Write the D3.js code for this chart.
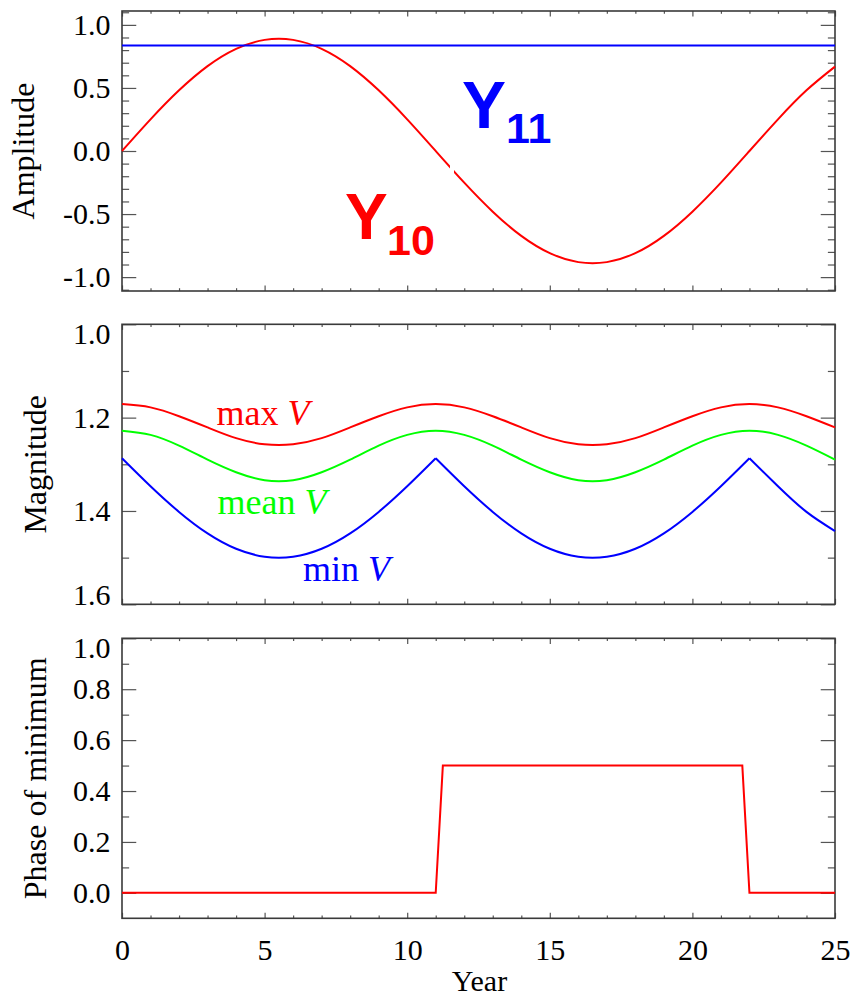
<!DOCTYPE html>
<html>
<head>
<meta charset="utf-8">
<script src="https://cdn.jsdelivr.net/npm/d3@7"></script>
<style>
  html, body { margin: 0; padding: 0; background: #fff; }
  svg { display: block; }
  .serif { font-family: "Liberation Serif", "Times New Roman", Times, serif !important; }
  .sansb { font-family: "Liberation Sans", Arial, Helvetica, sans-serif !important; font-weight: bold; }
</style>
</head>
<body>
<script>
// ---------------- DATA ----------------
const years = [0,1,2,3,4,5,6,7,8,9,10,11,12,13,14,15,16,17,18,19,20,21,22,23,24,25];

// Panel 1: Amplitude
const y10Values = [0.000,0.251,0.481,0.673,0.810,0.881,0.881,0.810,0.673,0.481,0.251,0.000,
                   -0.251,-0.481,-0.673,-0.810,-0.881,-0.881,-0.810,-0.673,-0.481,-0.251,0.000,
                   0.251,0.481,0.669];
const y10Gap = [11.50, 11.64];          // small break in the Y10 curve
const y11Years = [0, 25];
const y11Values = [0.836, 0.836];

// Panel 2: Magnitude
const maxV  = [1.171,1.178,1.197,1.221,1.244,1.257,1.257,1.244,1.221,1.197,1.178,1.171,
               1.178,1.197,1.221,1.244,1.257,1.257,1.244,1.221,1.197,1.178,1.171,
               1.178,1.197,1.221];
const meanV = [1.228,1.237,1.260,1.290,1.317,1.334,1.334,1.317,1.290,1.260,1.237,1.228,
               1.237,1.260,1.290,1.317,1.334,1.334,1.317,1.290,1.260,1.237,1.228,
               1.237,1.260,1.290];
const minV  = [1.287,1.347,1.402,1.448,1.481,1.498,1.498,1.481,1.448,1.402,1.347,1.287,
               1.347,1.402,1.448,1.481,1.498,1.498,1.481,1.448,1.402,1.347,1.287,
               1.347,1.402,1.443];
const minVCusps = [11, 22];

// Panel 3: Phase of minimum
const phaseYears  = [0, 11, 11.25, 21.75, 22, 25];
const phaseValues = [0, 0, 0.5, 0.5, 0, 0];

// Tick values
const xMajor = [0,5,10,15,20,25];
const xMinor = [1,2,3,4,6,7,8,9,11,12,13,14,16,17,18,19,21,22,23,24];
const ampMajor = [-1.0,-0.5,0.0,0.5,1.0];
const ampMinor = [-1.1,-0.9,-0.8,-0.7,-0.6,-0.4,-0.3,-0.2,-0.1,0.1,0.2,0.3,0.4,0.6,0.7,0.8,0.9,1.1];
const magMajor = [1.0,1.2,1.4,1.6];
const magMinor = [1.1,1.3,1.5];
const phMajor = [0.0,0.2,0.4,0.6,0.8,1.0];
const phMinor = [0.1,0.3,0.5,0.7,0.9];

// ---------------- LAYOUT ----------------
const W = 852, H = 998;
const left = 122, right = 835;
const svg = d3.select("body").append("svg").attr("width", W).attr("height", H);

const x = d3.scaleLinear().domain([0, 25]).range([left, right]);

const panels = [
  { top: 11,    bottom: 291,   domain: [-1.11, 1.11], major: ampMajor, minor: ampMinor,
    title: "Amplitude", titleX: 34, edge: {} },
  { top: 324.3, bottom: 604.3, domain: [1.0, 1.6], inverted: true, major: magMajor, minor: magMinor,
    title: "Magnitude", titleX: 46, edge: { "1.0": 10, "1.6": -9 } },
  { top: 638.3, bottom: 918.3, domain: [-0.1, 1.0], major: phMajor, minor: phMinor,
    title: "Phase of minimum", titleX: 46, edge: { "1.0": 10 }, xLabels: true }
];

const frameColor = "#3a3a3a";
const tickColor = "#555";
const fmt = d => d.toFixed(1);

panels.forEach(p => {
  p.y = d3.scaleLinear().domain(p.domain)
    .range(p.inverted ? [p.top, p.bottom] : [p.bottom, p.top]);
  const plotW = right - left, plotH = p.bottom - p.top;
  const yMaj = 0.02 * plotW, yMin = yMaj / 2;
  const xMaj = 0.02 * plotH, xMin = xMaj / 2;

  const g = svg.append("g");

  // left axis with labels
  const la = g.append("g").attr("transform", `translate(${left},0)`)
    .call(d3.axisLeft(p.y).tickValues(p.major).tickFormat(fmt).tickSizeInner(-yMaj).tickSizeOuter(0).tickPadding(11.5));
  la.attr("font-family", null).attr("font-size", null);
  la.selectAll("text").attr("class", "serif").style("font-size", "30px").attr("fill", "#000")
    .attr("dy", d => {
      const s = p.edge[fmt(d)] || 0;
      return (0.32 * 30 + s) + "px";
    });
  g.append("g").attr("transform", `translate(${left},0)`)
    .call(d3.axisLeft(p.y).tickValues(p.minor).tickFormat("").tickSizeInner(-yMin).tickSizeOuter(0));
  // right axis mirror
  g.append("g").attr("transform", `translate(${right},0)`)
    .call(d3.axisRight(p.y).tickValues(p.major).tickFormat("").tickSizeInner(-yMaj).tickSizeOuter(0));
  g.append("g").attr("transform", `translate(${right},0)`)
    .call(d3.axisRight(p.y).tickValues(p.minor).tickFormat("").tickSizeInner(-yMin).tickSizeOuter(0));
  // bottom axis
  const ba = g.append("g").attr("transform", `translate(0,${p.bottom})`)
    .call(d3.axisBottom(x).tickValues(xMajor).tickFormat(p.xLabels ? d3.format("d") : "")
      .tickSizeInner(-xMaj).tickSizeOuter(0).tickPadding(20.5));
  ba.attr("font-family", null).attr("font-size", null);
  ba.selectAll("text").attr("class", "serif").style("font-size", "30px").attr("fill", "#000");
  g.append("g").attr("transform", `translate(0,${p.bottom})`)
    .call(d3.axisBottom(x).tickValues(xMinor).tickFormat("").tickSizeInner(-xMin).tickSizeOuter(0));
  // top axis mirror
  g.append("g").attr("transform", `translate(0,${p.top})`)
    .call(d3.axisTop(x).tickValues(xMajor).tickFormat("").tickSizeInner(-xMaj).tickSizeOuter(0));
  g.append("g").attr("transform", `translate(0,${p.top})`)
    .call(d3.axisTop(x).tickValues(xMinor).tickFormat("").tickSizeInner(-xMin).tickSizeOuter(0));

  g.selectAll(".domain").remove();
  g.selectAll(".tick line").attr("stroke", tickColor).attr("stroke-width", 1.2);

  // frame
  g.append("rect").attr("x", left).attr("y", p.top)
    .attr("width", plotW).attr("height", plotH)
    .attr("fill", "none").attr("stroke", frameColor).attr("stroke-width", 1.6);

  // y title
  g.append("text")
    .attr("class", "serif")
    .attr("transform", `translate(${p.titleX},${(p.top + p.bottom) / 2}) rotate(-90)`)
    .attr("text-anchor", "middle")
    .style("font-size", "32px").attr("fill", "#000")
    .text(p.title);
});

// x title
svg.append("text").attr("class", "serif").attr("x", (left + right) / 2 + 1).attr("y", 991)
  .attr("text-anchor", "middle").style("font-size", "30px")
  .attr("fill", "#000").text("Year");

// ---------------- MARKS ----------------
const [p1, p2, p3] = panels;
const lw = 2;

// Panel 1
const defs = svg.append("defs");
defs.append("clipPath").attr("id", "y10a").append("rect")
  .attr("x", 0).attr("y", 0).attr("width", x(y10Gap[0])).attr("height", H);
defs.append("clipPath").attr("id", "y10b").append("rect")
  .attr("x", x(y10Gap[1])).attr("y", 0).attr("width", W - x(y10Gap[1])).attr("height", H);

const y10Line = d3.line().x((d, i) => x(years[i])).y(d => p1.y(d)).curve(d3.curveNatural);
["y10a", "y10b"].forEach(id => {
  svg.append("path").datum(y10Values).attr("d", y10Line)
    .attr("clip-path", `url(#${id})`)
    .attr("fill", "none").attr("stroke", "#ff0000").attr("stroke-width", lw);
});

svg.append("path").datum(y11Values)
  .attr("d", d3.line().x((d, i) => x(y11Years[i])).y(d => p1.y(d)))
  .attr("fill", "none").attr("stroke", "#0000ff").attr("stroke-width", lw);

// Y10 / Y11 labels
const y11T = svg.append("text").attr("class", "sansb").attr("fill", "#0000ff");
y11T.append("tspan").attr("x", 462).attr("y", 128).style("font-size", "66px").text("Y");
y11T.append("tspan").attr("x", 506).attr("y", 143).style("font-size", "43px").text("11");
const y10T = svg.append("text").attr("class", "sansb").attr("fill", "#ff0000");
y10T.append("tspan").attr("x", 345).attr("y", 239).style("font-size", "64px").text("Y");
y10T.append("tspan").attr("x", 387).attr("y", 255).style("font-size", "43px").text("10");

// Panel 2
const magLine = arr => d3.line().x(d => x(d)).y(d => p2.y(arr[years.indexOf(d)])).curve(d3.curveNatural);
function segments(breaks) {
  const b = [years[0], ...breaks, years[years.length - 1]];
  const segs = [];
  for (let i = 0; i < b.length - 1; i++) segs.push(years.filter(t => t >= b[i] && t <= b[i + 1]));
  return segs;
}
svg.append("path").datum(years).attr("d", magLine(maxV))
  .attr("fill", "none").attr("stroke", "#ff0000").attr("stroke-width", lw);
svg.append("path").datum(years).attr("d", magLine(meanV))
  .attr("fill", "none").attr("stroke", "#00ff00").attr("stroke-width", lw);
segments(minVCusps).forEach(seg => {
  svg.append("path").datum(seg).attr("d", magLine(minV))
    .attr("fill", "none").attr("stroke", "#0000ff").attr("stroke-width", lw)
    .attr("stroke-linejoin", "miter");
});

function vLabel(txt, xx, yy, color) {
  const t = svg.append("text").attr("class", "serif").attr("x", xx).attr("y", yy)
    .style("font-size", "36px").attr("fill", color);
  t.append("tspan").text(txt + " ");
  t.append("tspan").style("font-style", "italic").text("V");
}
vLabel("max", 216.5, 425, "#ff0000");
vLabel("mean", 217.5, 514, "#00ff00");
vLabel("min", 303, 581, "#0000ff");

// Panel 3
svg.append("path").datum(phaseValues)
  .attr("d", d3.line().x((d, i) => x(phaseYears[i])).y(d => p3.y(d)))
  .attr("fill", "none").attr("stroke", "#ff0000").attr("stroke-width", lw);
</script>
</body>
</html>
